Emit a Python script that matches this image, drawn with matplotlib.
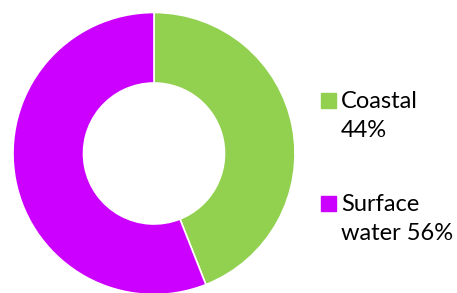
import matplotlib.pyplot as plt
from matplotlib.patches import Rectangle

labels = ['Coastal', 'Surface water']
shares = [44, 56]
colors = ['#92D050', '#CC00FF']
legend_lines = [['Coastal', '44%'], ['Surface', 'water 56%']]

W, H = 457, 293
fig = plt.figure(figsize=(W / 100, H / 100), dpi=100)

# donut centred at (154, 153.5) px, radius 141 px
cx, cy, r = 154, 153.5, 141
ax = fig.add_axes([(cx - r) / W, (H - cy - r) / H, 2 * r / W, 2 * r / H])
ax.pie(shares, colors=colors, startangle=90, counterclock=False,
       radius=1, wedgeprops=dict(width=0.5, edgecolor='white', linewidth=1.2))
ax.set_xlim(-1, 1)
ax.set_ylim(-1, 1)
ax.set_aspect('equal')
ax.axis('off')

# legend drawn by hand so the marker sits on the first line
base_y = [108, 211]
for lines, col, by in zip(legend_lines, colors, base_y):
    fig.patches.append(Rectangle((321 / W, (H - by) / H), 15 / W, 15 / H,
                                 transform=fig.transFigure, color=col))
    for k, txt in enumerate(lines):
        fig.text(341 / W, (H - by - k * 29) / H, txt, fontsize=17,
                 family='Lato', color='black', va='baseline', ha='left')

fig.savefig('out.png', dpi=100)
